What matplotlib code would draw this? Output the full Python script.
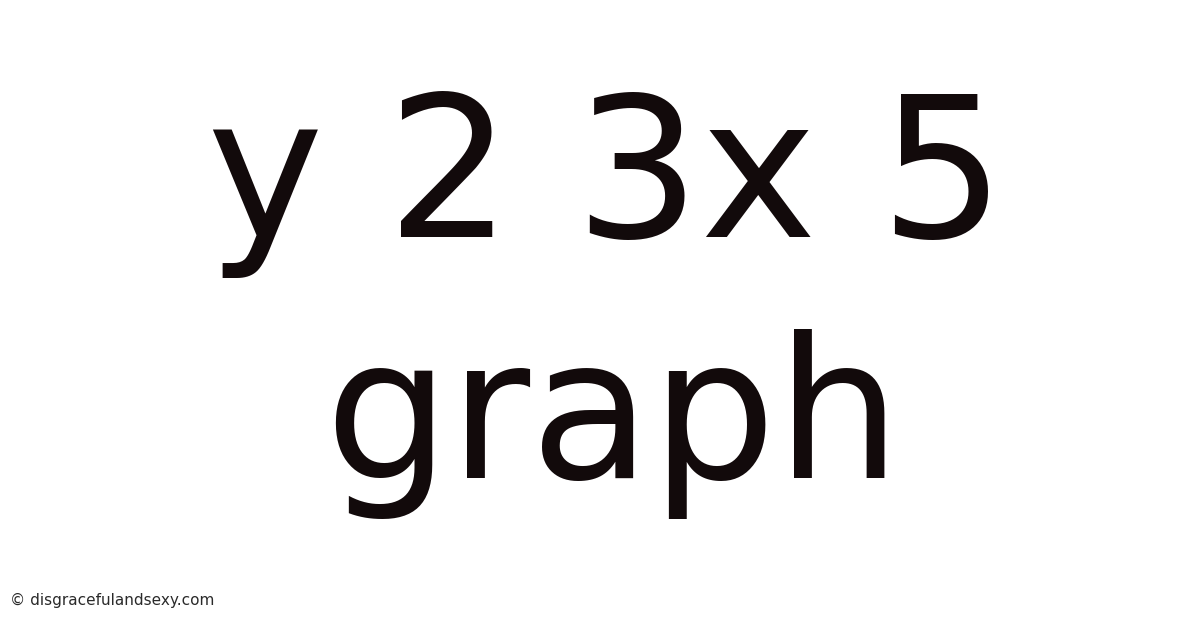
import matplotlib

matplotlib.use("Agg")
import matplotlib.pyplot as plt  # noqa: E402

# text content of the card
TITLE_LINES = ["y 2 3x 5", "graph"]
FOOTER = "© disgracefulandsexy.com"

W, H = 1200, 628

fig = plt.figure(figsize=(W / 100, H / 100), dpi=100)
fig.patch.set_facecolor("white")

# baseline (px from top) and horizontal centre of each line
baselines = [237, 478]
centres = [606.5, 612.5]
for line, yb, xc in zip(TITLE_LINES, baselines, centres):
    fig.text(xc / W, 1 - yb / H, line, ha="center", va="baseline",
             fontsize=142, color="#120a0b", family="DejaVu Sans")

fig.text(10 / W, 1 - 605 / H, FOOTER, ha="left", va="baseline",
         fontsize=11, color="#2a2a2a", family="DejaVu Sans")

fig.savefig("out.png", dpi=100, facecolor="white")
